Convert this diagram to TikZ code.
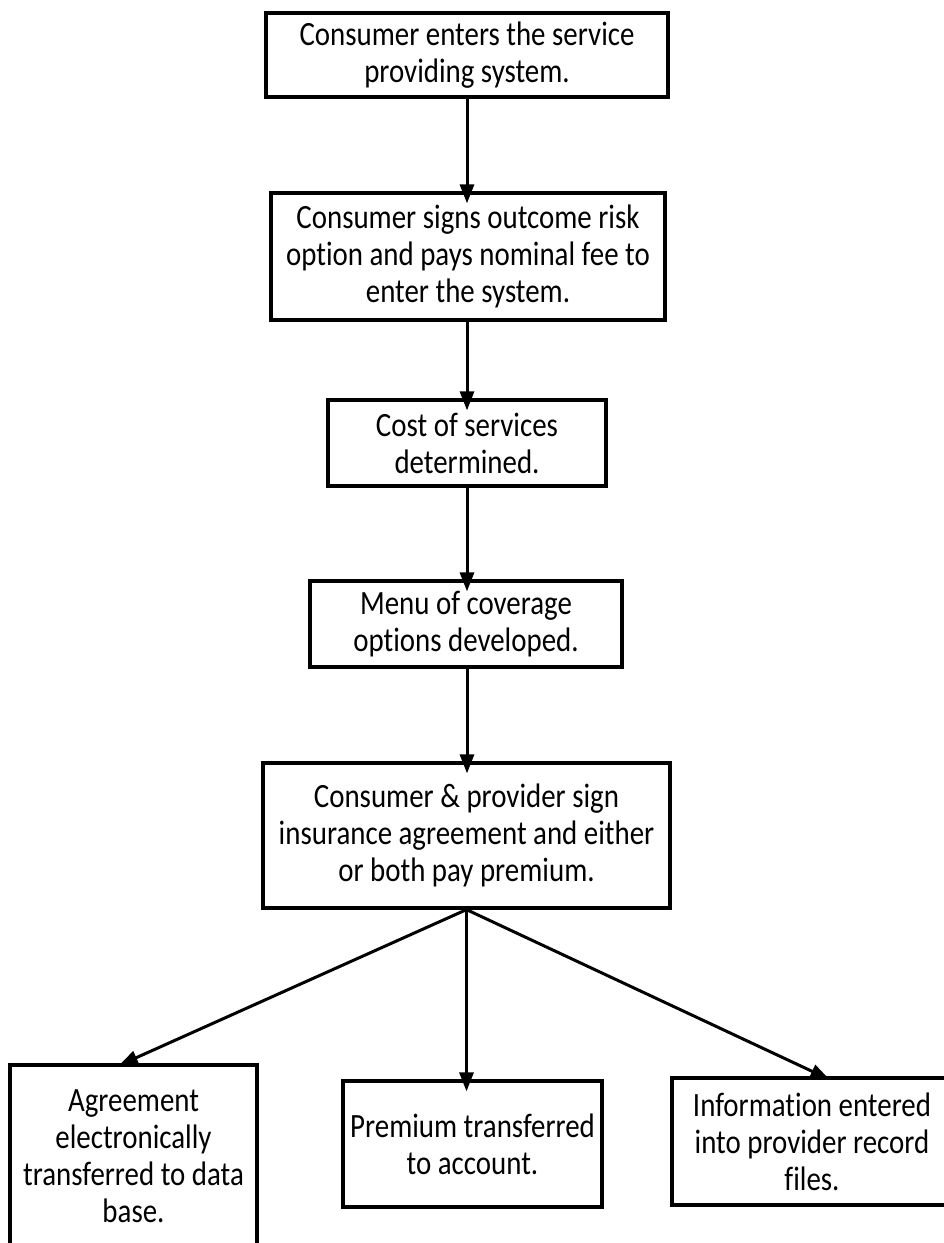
\documentclass[tikz,border=0pt]{standalone}
\usepackage{fontspec}
\setmainfont{Carlito}[FakeStretch=0.85, Ligatures=NoCommon]
\usetikzlibrary{arrows.meta,calc}
\tikzset{
  box/.style={draw=black, line width=3.2pt, fill=white, align=center, inner sep=0pt,
    font=\fontsize{34}{37}\selectfont},
  arr/.style={line width=3pt, -{Triangle[length=19pt,width=14pt]}},
}
\begin{document}
\begin{tikzpicture}[x=1pt,y=-1pt]
\useasboundingbox (0,0) rectangle (944,1243);
\node[box, minimum width=402pt, minimum height=84pt] (b1) at (467,55) {Consumer enters the service\\providing system.};
\node[box, minimum width=394pt, minimum height=127pt] (b2) at (468,256.5) {Consumer signs outcome risk\\option and pays nominal fee to\\enter the system.};
\node[box, minimum width=278pt, minimum height=86pt] (b3) at (467,443) {Cost of services\\determined.};
\node[box, minimum width=312pt, minimum height=86pt] (b4) at (466,624) {Menu of coverage\\options developed.};
\node[box, minimum width=407pt, minimum height=145pt] (b5) at (466.5,835.5) {Consumer \& provider sign\\insurance agreement and either\\or both pay premium.};
\node[box, minimum width=247pt, minimum height=183pt] (b6) at (133.5,1156.5) {Agreement\\electronically\\transferred to data\\base.};
\node[box, minimum width=259pt, minimum height=126pt] (b7) at (472.5,1144) {Premium transferred\\to account.};
\node[box, minimum width=280pt, minimum height=127pt] (b8) at (812,1141.5) {Information entered\\into provider record\\files.};
\draw[arr, shorten >=-12pt] (b1.south) -- (b1.south |- b2.north);
\draw[arr, shorten >=-12pt] (b2.south -| b1.south) -- (b1.south |- b3.north);
\draw[arr, shorten >=-12pt] (b3.south) -- (b3.south |- b4.north);
\draw[arr, shorten >=-12pt] (b4.south -| b3.south) -- (b3.south |- b5.north);
\coordinate (fan) at (b5.south);
\draw[arr, shorten >=-5pt] (fan) -- ($(b6.north)+(-10,0)$);
\draw[arr, shorten >=-12pt] (fan) -- (fan |- b7.north);
\draw[arr, shorten >=-7pt] (fan) -- ($(b8.north)+(11,0)$);
\end{tikzpicture}
\end{document}
